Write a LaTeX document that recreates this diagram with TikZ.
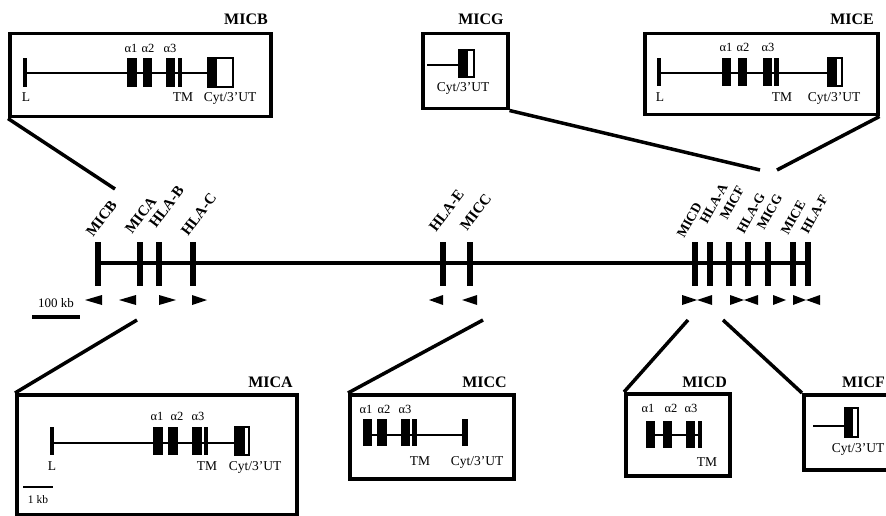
\documentclass[tikz,border=0pt]{standalone}
\usepackage{fontspec}
\setmainfont{Liberation Serif}
\begin{document}
\begin{tikzpicture}[x=1pt,y=-1pt,
  gbox/.style={draw, line width=3.5pt, inner sep=0pt, anchor=north west},
  title/.style={font=\fontsize{16}{16}\selectfont\bfseries, inner sep=0pt},
  loc/.style={font=\fontsize{15}{15}\selectfont\bfseries, inner sep=0pt, rotate=53, anchor=base west},
  locs/.style={font=\fontsize{13.5}{13.5}\selectfont\bfseries, inner sep=0pt, rotate=61, anchor=base west},
  lab/.style={font=\fontsize{13.5}{13.5}\selectfont, inner sep=0pt, anchor=base},
  alab/.style={font=\fontsize{12.5}{12.5}\selectfont, inner sep=0pt, anchor=base},
  conn/.style={line width=3.5pt},
  intron/.style={line width=1.2pt},
  tickline/.style={line width=6pt},
  chrom/.style={line width=4pt},
  utr/.style={draw, line width=1.2pt, fill=white}]
\useasboundingbox (0,0) rectangle (886,516);
\clip (0,0) rectangle (886,516);

% ---------- chromosome ----------
\draw[chrom] (98,263) -- (808,263);
\foreach \x in {98,140,159,193,443,470,695,710,729,748,768,793,808}{
  \draw[tickline] (\x,242) -- (\x,286);
}
\foreach \n/\lx/\ly/\t in {micb/93/238/MICB, mica/132/235/MICA, hlab/156/229/HLA-B, hlac/188/237/HLA-C, hlae/436/233/HLA-E, micc/467/232/MICC}{
  \node[loc] (t-\n) at (\lx,\ly) {\t};
}
\foreach \n/\lx/\ly/\t in {micd/684/239/MICD, hlaa/707/225/HLA-A, micf/727/221/MICF, hlag/744/235/HLA-G, micg/764/231/MICG, mice/788/236/MICE, hlaf/808/235/HLA-F}{
  \node[locs] (t-\n) at (\lx,\ly) {\t};
}
% orientation arrowheads (tip/back)
\foreach \tp/\bk in {85/102, 119/136, 176/159, 207/192, 429/443, 462/477, 697/682, 697/712, 744/730, 744/758, 786/773, 806/793, 806/820}{
  \fill (\tp,300) -- (\bk,295) -- (\bk,305) -- cycle;
}
% scale bar
\node[alab, font=\fontsize{13}{13}\selectfont] (kb100) at (56,307) {100 kb};
\draw[line width=3.5pt] (32,317) -- (80,317);

% ---------- boxes ----------
\node[gbox, minimum width=261pt, minimum height=83pt] (bmicb) at (8,32) {};
\node[gbox, minimum width=85pt, minimum height=75pt] (bmicg) at (421,32) {};
\node[gbox, minimum width=233pt, minimum height=81pt] (bmice) at (643,32) {};
\node[gbox, minimum width=280pt, minimum height=120pt] (bmica) at (15,393) {};
\node[gbox, minimum width=164pt, minimum height=84pt] (bmicc) at (348,393) {};
\node[gbox, minimum width=104pt, minimum height=82pt] (bmicd) at (624,392) {};
\node[gbox, minimum width=110pt, minimum height=75pt] (bmicf) at (802,393) {};

\node[title, anchor=base east] (ttb) at (268,25) {MICB};
\node[title, anchor=base] (ttg) at (481,25) {MICG};
\node[title, anchor=base east] (tte) at (874,25) {MICE};
\node[title, anchor=base east] (tta) at (293,387) {MICA};
\node[title, anchor=base east] (ttc) at (507,387) {MICC};
\node[title, anchor=base east] (ttd) at (727,387) {MICD};
\node[title, anchor=base west] (ttf) at (842,387) {MICF};

% ---------- connectors ----------
\coordinate (cb) at (115,189);
\coordinate (cg) at (760,170);
\coordinate (ce) at (777,170);
\coordinate (ca) at (137,320);
\coordinate (cc) at (483,320);
\coordinate (cd) at (688,320);
\coordinate (cf) at (723,320);
\draw[conn] (bmicb.south west) -- (cb);
\draw[conn] (bmicg.south east) -- (cg);
\draw[conn] (bmice.south east) -- (ce);
\draw[conn] (bmica.north west) -- (ca);
\draw[conn] (bmicc.north west) -- (cc);
\draw[conn] (bmicd.north west) -- (cd);
\draw[conn] (bmicf.north west) -- (cf);

% ---------- MICB gene ----------
\draw[intron] (25,73) -- (208,73);
\fill (23,58) rectangle (27,87);
\fill (127,58) rectangle (137,87);
\fill (143,58) rectangle (152,87);
\fill (166,58) rectangle (175,87);
\fill (178,58) rectangle (182,87);
\draw[utr] (208,58) rectangle (233,87);
\fill (208,58) rectangle (217,87);
\node[alab] (b1) at (131,53) {α1};
\node[alab] (b2) at (148,53) {α2};
\node[alab] (b3) at (170,53) {α3};
\node[lab] (bl) at (26,102) {L};
\node[lab] (btm) at (183,102) {TM};
\node[lab] (bcy) at (230,102) {Cyt/3’UT};

% ---------- MICG gene ----------
\draw[intron] (427,65) -- (459,65);
\draw[utr] (459,50) rectangle (474,77);
\fill (459,50) rectangle (468,77);
\node[lab] (gcy) at (463,92) {Cyt/3’UT};

% ---------- MICE gene ----------
\draw[intron] (659,73) -- (828,73);
\fill (657,58) rectangle (661,86);
\fill (722,58) rectangle (731,86);
\fill (738,58) rectangle (747,86);
\fill (763,58) rectangle (772,86);
\fill (774,58) rectangle (779,86);
\draw[utr] (828,58) rectangle (842,86);
\fill (828,58) rectangle (837,86);
\node[alab] (e1) at (726,52) {α1};
\node[alab] (e2) at (743,52) {α2};
\node[alab] (e3) at (768,52) {α3};
\node[lab] (el) at (660,102) {L};
\node[lab] (etm) at (782,102) {TM};
\node[lab] (ecy) at (834,102) {Cyt/3’UT};

% ---------- MICA gene ----------
\draw[intron] (52,443) -- (235,443);
\fill (50,427) rectangle (54,455);
\fill (153,427) rectangle (163,455);
\fill (168,427) rectangle (178,455);
\fill (192,427) rectangle (202,455);
\fill (204,427) rectangle (208,455);
\draw[utr] (235,427) rectangle (249,455);
\fill (235,427) rectangle (245,455);
\node[alab] (a1) at (157,420) {α1};
\node[alab] (a2) at (177,420) {α2};
\node[alab] (a3) at (198,420) {α3};
\node[lab] (al) at (52,470) {L};
\node[lab] (atm) at (207,470) {TM};
\node[lab] (acy) at (255,470) {Cyt/3’UT};
\draw[line width=2.5pt] (23,487) -- (53,487);
\node[alab, font=\fontsize{11.5}{11.5}\selectfont] (kb1) at (38,503) {1 kb};

% ---------- MICC gene ----------
\draw[intron] (363,435) -- (468,435);
\fill (363,419) rectangle (372,446);
\fill (377,419) rectangle (387,446);
\fill (401,419) rectangle (410,446);
\fill (412,419) rectangle (417,446);
\fill (462,419) rectangle (468,446);
\node[alab] (c1) at (366,413) {α1};
\node[alab] (c2) at (384,413) {α2};
\node[alab] (c3) at (405,413) {α3};
\node[lab] (ctm) at (420,465) {TM};
\node[lab] (ccy) at (477,465) {Cyt/3’UT};

% ---------- MICD gene ----------
\draw[intron] (646,435) -- (702,435);
\fill (646,421) rectangle (655,448);
\fill (663,421) rectangle (672,448);
\fill (686,421) rectangle (695,448);
\fill (698,421) rectangle (702,448);
\node[alab] (d1) at (648,412) {α1};
\node[alab] (d2) at (671,412) {α2};
\node[alab] (d3) at (691,412) {α3};
\node[lab] (dtm) at (707,466) {TM};

% ---------- MICF gene ----------
\draw[intron] (813,426) -- (845,426);
\draw[utr] (845,408) rectangle (858,437);
\fill (845,408) rectangle (853,437);
\node[lab] (fcy) at (858,452) {Cyt/3’UT};
\end{tikzpicture}
\end{document}
